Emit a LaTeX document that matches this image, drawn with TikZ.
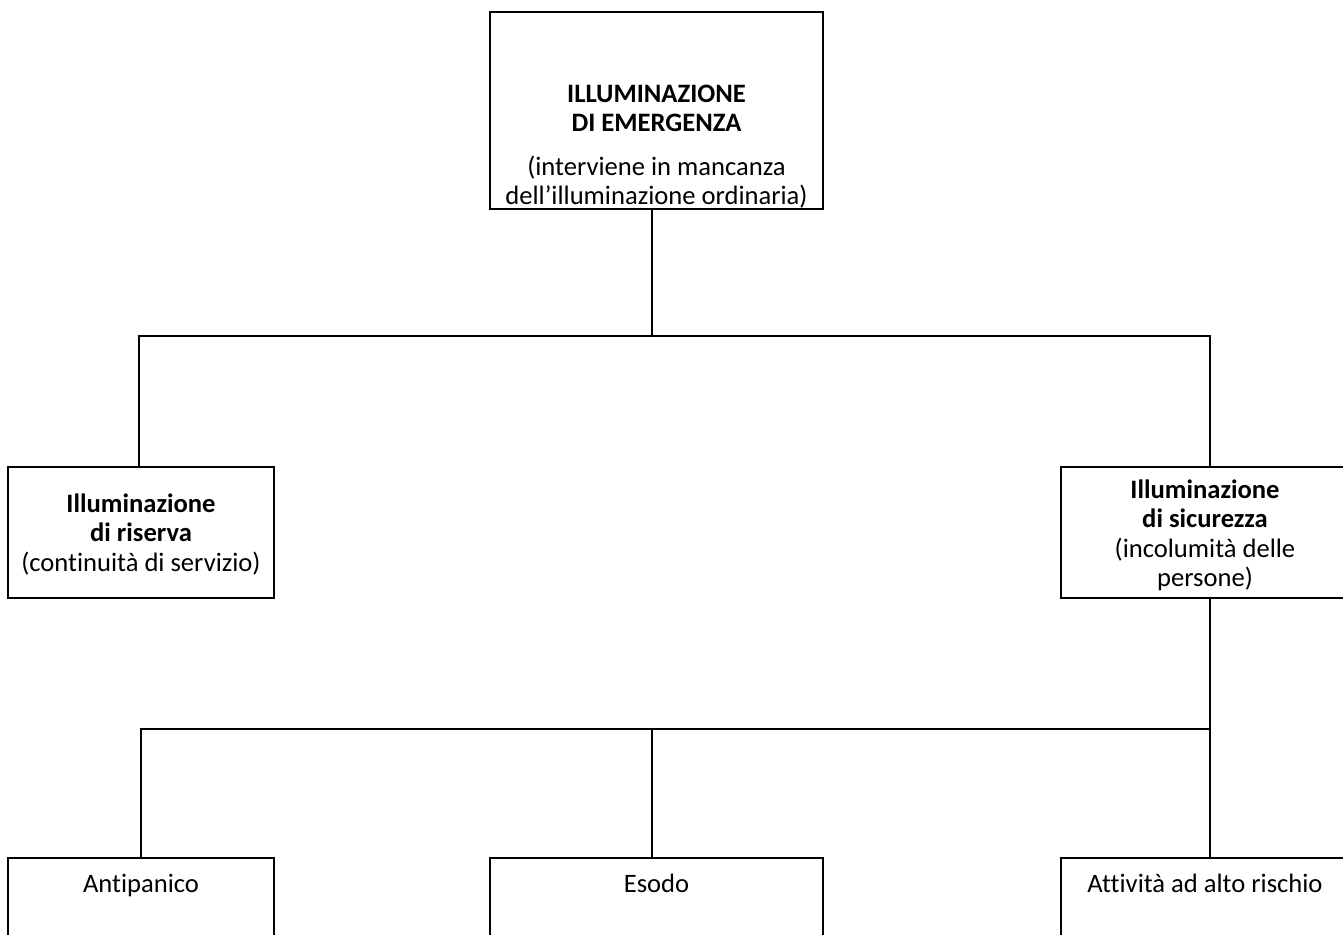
\documentclass[tikz,border=0pt]{standalone}
\usepackage{fontspec}
\setmainfont{Carlito}[Ligatures=NoCommon]
\tikzset{
  bx/.style={draw, line width=1pt, inner sep=0pt, outer sep=0pt, font=\fontsize{13.3}{14.75}\selectfont},
  ln/.style={line width=1pt}
}
\newcommand\bxc[4]{\parbox[c][#2][t]{#1}{\centering\vspace*{#3}\strut #4\par}}
\begin{document}
\begin{tikzpicture}[x=0.5pt, y=-0.5pt]
\useasboundingbox (0,0) rectangle (1343,934);
\clip (0,0) rectangle (1343,934);
% boxes
\node[bx] (top) at (656.5,110.5) {\bxc{166.5pt}{98.5pt}{34.675pt}{\textbf{ILLUMINAZIONE}\\ \textbf{DI EMERGENZA}\\[7pt] (interviene in mancanza\\ dell’illuminazione ordinaria)}};
\node[bx] (left) at (141,532.5) {\bxc{133pt}{65.5pt}{12.175pt}{\textbf{Illuminazione}\\ \textbf{di riserva}\\ (continuità di servizio)}};
\node[bx] (right) at (1205,532.5) {\bxc{144pt}{65.5pt}{5.175pt}{\textbf{Illuminazione}\\ \textbf{di sicurezza}\\ (incolumità delle\\ persone)}};
\node[bx] (bl) at (141,914) {\bxc{133pt}{56pt}{6.675pt}{Antipanico}};
\node[bx] (bm) at (656.5,914) {\bxc{166.5pt}{56pt}{6.675pt}{Esodo}};
\node[bx] (br) at (1205,914) {\bxc{144pt}{56pt}{6.675pt}{Attività ad alto rischio}};
% junctions
\coordinate (j1) at (652,336);
\coordinate (jl) at (139,336);
\coordinate (jr) at (1210,336);
\coordinate (j2) at (1210,729);
\coordinate (jb1) at (141,729);
\coordinate (jb2) at (652,729);
% connectors
\draw[ln] (top.south -| j1) -- (j1);
\draw[ln] (jl |- left.north) -- (jl) -- (jr) -- (jr |- right.north);
\draw[ln] (jr |- right.south) -- (jr |- br.north);
\draw[ln] (jb1 |- bl.north) -- (jb1) -- (j2);
\draw[ln] (jb2) -- (jb2 |- bm.north);
\end{tikzpicture}
\end{document}
